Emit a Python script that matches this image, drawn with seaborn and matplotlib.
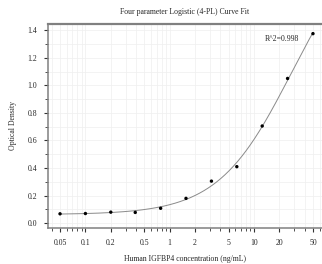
import numpy as np
import matplotlib
matplotlib.use("Agg")
import matplotlib.pyplot as plt
import matplotlib.ticker as mticker
import pandas as pd
import seaborn as sns

concentration = [0.05, 0.1, 0.2, 0.39, 0.78, 1.56, 3.125, 6.25, 12.5, 25, 50]
optical_density = [0.068, 0.070, 0.080, 0.078, 0.108, 0.180, 0.305, 0.410, 0.705, 1.050, 1.375]
r_squared = "R^2=0.998"
x_ticks = [0.05, 0.1, 0.2, 0.5, 1, 2, 5, 10, 20, 50]
x_tick_labels = ["0.05", "0.1", "0.2", "0.5", "1", "2", "5", "10", "20", "50"]


def fit_4pl(x, y):
    # grid over slope / midpoint, linear least squares for bottom / top
    x = np.asarray(x, float)
    y = np.asarray(y, float)
    best = None
    for b in np.linspace(0.5, 3.0, 126):
        for logc in np.linspace(0, 3, 151):
            c = 10 ** logc
            g = 1.0 / (1.0 + (x / c) ** b)
            m = np.column_stack([g, 1 - g])
            coef, *_ = np.linalg.lstsq(m, y, rcond=None)
            err = np.sum((m @ coef - y) ** 2)
            if best is None or err < best[0]:
                best = (err, coef[0], coef[1], b, c)
    _, a, d, b, c = best
    return lambda t: d + (a - d) / (1.0 + (t / c) ** b)


df = pd.DataFrame({"conc": concentration, "od": optical_density})
curve = fit_4pl(concentration, optical_density)
xs = np.logspace(np.log10(min(concentration)), np.log10(max(concentration)), 300)
curve_df = pd.DataFrame({"conc": xs, "od": curve(xs)})

sns.set_style("white")
plt.rcParams["font.family"] = ["Liberation Serif", "DejaVu Serif"]

fig = plt.figure(figsize=(3.22, 2.64), dpi=100)
ax = fig.add_axes([48 / 322, 1 - 228 / 264, 274 / 322, 204 / 264])

sns.lineplot(data=curve_df, x="conc", y="od", ax=ax, color="#8a8a8a", linewidth=0.7)
sns.scatterplot(data=df, x="conc", y="od", ax=ax, color="black", s=6, edgecolor="none", zorder=3)

ax.set_xscale("log")
ax.set_xlim(0.036, 64)
ax.set_ylim(-0.035, 1.445)
ax.set_xticks(x_ticks)
ax.set_xticklabels(x_tick_labels)
ax.xaxis.set_minor_locator(mticker.LogLocator(base=10, subs=np.arange(2, 10)))
ax.xaxis.set_minor_formatter(mticker.NullFormatter())
ax.yaxis.set_major_locator(mticker.MultipleLocator(0.2))
ax.yaxis.set_minor_locator(mticker.MultipleLocator(0.1))
ax.yaxis.set_major_formatter(mticker.FormatStrFormatter("%.1f"))

ax.grid(True, which="both", color="#efefef", linewidth=0.5)
ax.set_axisbelow(True)
for side in ["left", "bottom", "top"]:
    ax.spines[side].set_color("#808080")
    ax.spines[side].set_linewidth(1.1)
ax.spines["top"].set_linewidth(1.6)
ax.spines["right"].set_visible(False)

ax.tick_params(axis="both", which="major", direction="out", length=3, width=0.8,
               color="#333333", labelsize=5.6, pad=5, bottom=True, left=True)
ax.tick_params(axis="both", which="minor", direction="out", length=2, width=0.6,
               color="#333333", bottom=True, left=True)

ax.set_xlabel("Human IGFBP4 concentration (ng/mL)", fontsize=5.6, labelpad=6)
ax.set_ylabel("Optical Density", fontsize=5.6, labelpad=7)
ax.set_title("Four parameter Logistic (4-PL) Curve Fit", fontsize=5.6, pad=7)
ax.text(0.79, 0.915, r_squared, transform=ax.transAxes, fontsize=5.6)

fig.savefig("out.png", dpi=100)
plt.close(fig)
